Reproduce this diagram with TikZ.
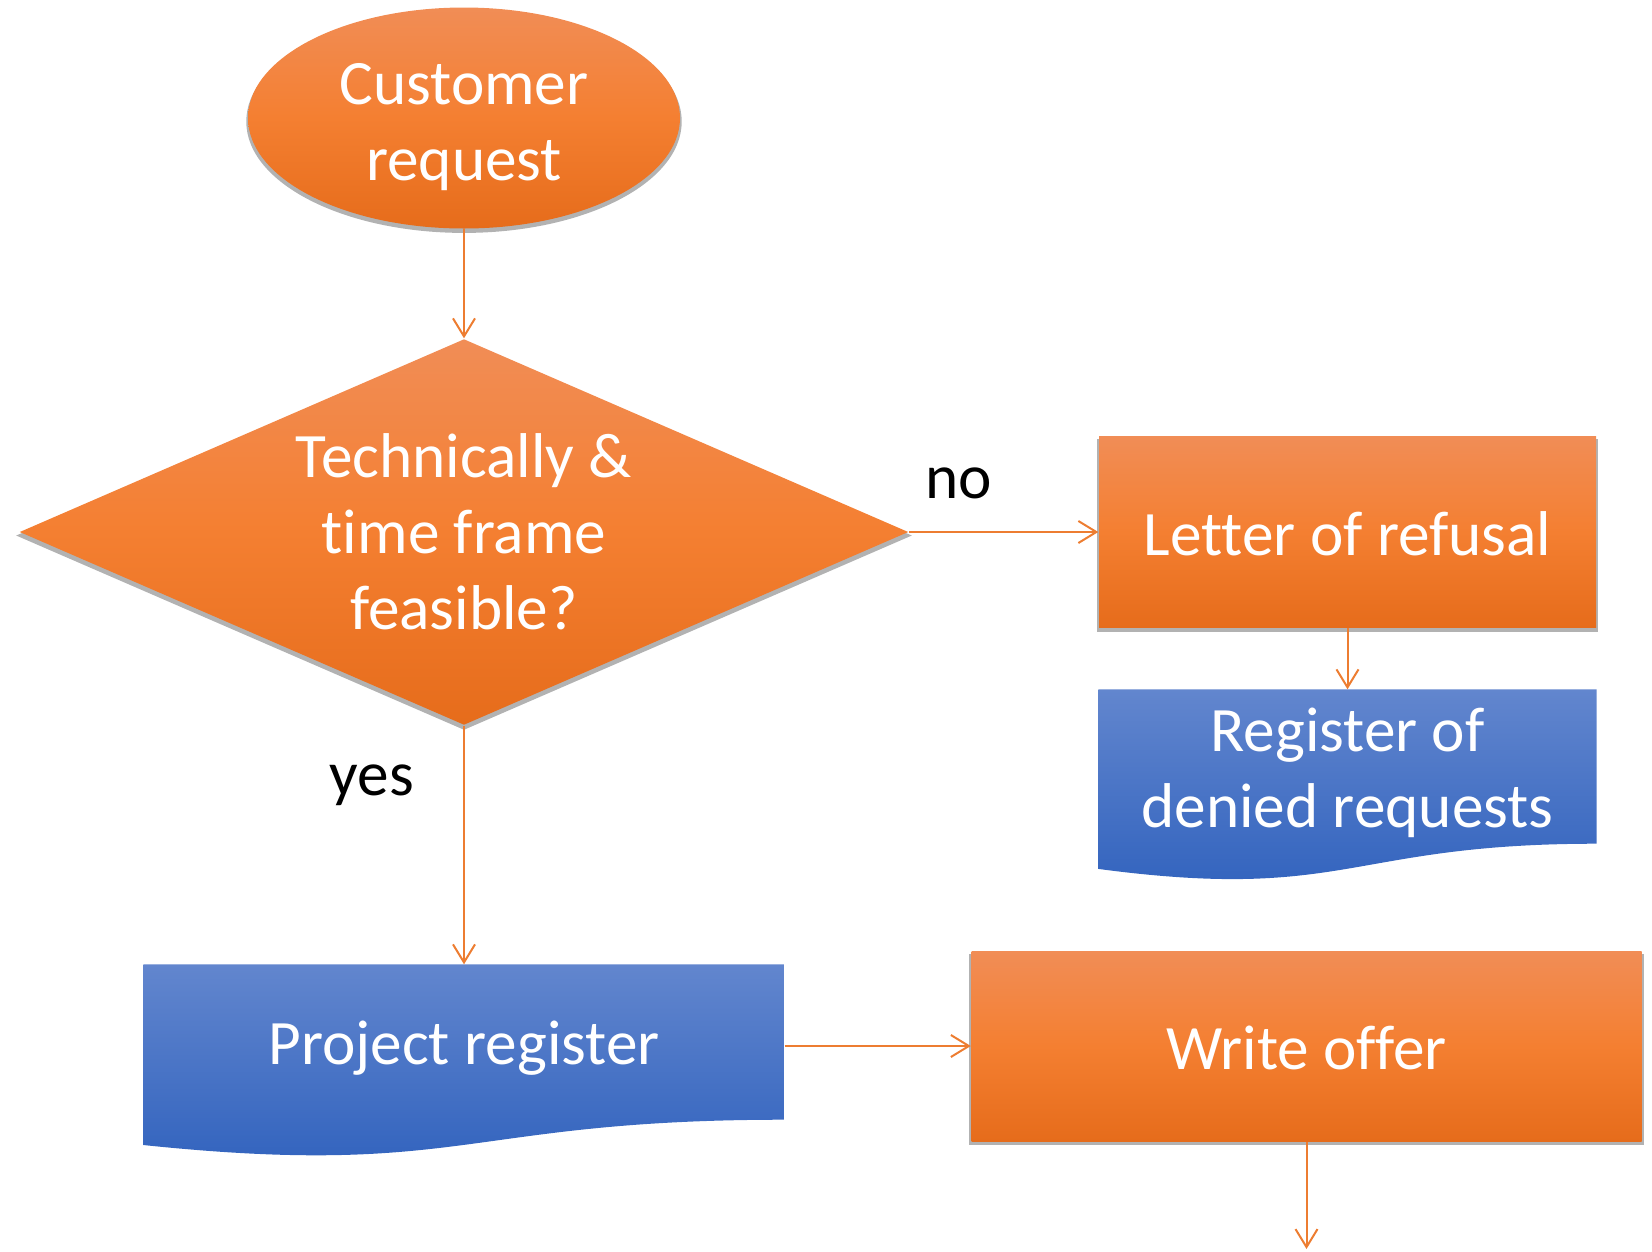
\documentclass[tikz,border=0pt]{standalone}
\usepackage{fontspec}
\setmainfont{Carlito}[Ligatures=NoCommon]
\usetikzlibrary{shapes.geometric,arrows.meta,shadows,backgrounds}
\definecolor{orangetop}{HTML}{F18D56}
\definecolor{orangemid}{HTML}{F47F31}
\definecolor{orangebot}{HTML}{E66C1B}
\definecolor{bluetop}{HTML}{6286CE}
\definecolor{bluebot}{HTML}{2F61BD}
\definecolor{flowline}{HTML}{ED7D31}
\newcommand{\lowerby}[1]{\rule{0pt}{#1}}
\begin{document}
\begin{tikzpicture}
			[x=0.1mm,y=-0.1mm,
			txt/.style={text=white,align=center,inner sep=0pt,font=\fontsize{18}{21.6}\selectfont},
			lower/.style={execute at begin node={\rule{0pt}{#1}}},
			orangefill/.style={top color=orangetop,bottom color=orangebot,middle color=orangemid,
				drop shadow={shadow xshift=0mm,shadow yshift=-0.35mm,shadow scale=1.008,fill=black,opacity=.3}},
			bluefill/.style={top color=bluetop,bottom color=bluebot},
			start/.style={ellipse,txt,orangefill,minimum width=43.2mm,minimum height=22.1mm},
			decision/.style={diamond,txt,orangefill,aspect=2.3,minimum width=88.9mm,minimum height=38.6mm},
			action/.style={rectangle,txt,orangefill,minimum height=19.1mm},
			docu/.style={rectangle,txt,minimum height=15.3mm},
			plain/.style={draw=none,fill=none,inner sep=0pt,font=\fontsize{18}{21.6}\selectfont},
			flow/.style={draw=flowline,line width=0.2mm,-{Straight Barb[length=1.8mm,width=2.2mm]}}
			]
			\useasboundingbox (0,0) rectangle (1652,1251);

			\node[start] (req) at (464,118) {\lowerby{16.8pt}Customer\\request};
			\node[decision] (feas) at (464,532) {Technically \&\\time frame\\feasible?};
			\node[action,minimum width=49.7mm,lower=13.4pt] (refusal) at (1347.5,532) {Letter of refusal};
			\node[docu,minimum width=49.7mm] (denied) at (1347.5,766.5) {\lowerby{15.8pt}Register of\\denied requests};
			\node[docu,minimum width=64mm,minimum height=15.4mm,lower=15.9pt] (preg) at (464,1042) {Project register};
			\node[action,minimum width=67mm,minimum height=19mm,lower=13.4pt] (offer) at (1306.5,1046) {Write offer};
			\coordinate (next) at (1306.5,1249);

			\node[plain] (no) at (959,483) {no};
			\node[plain] (yes) at (372,785) {yes};

			% document shapes with wavy bottom
			\begin{pgfonlayer}{background}
				\shade[bluefill] (denied.north west) -- (denied.north east) -- (denied.south east)
					.. controls (denied.south) and ([yshift=-5.83mm]denied.south) .. ([yshift=-2.52mm]denied.south west) -- cycle;
				\shade[bluefill] (preg.north west) -- (preg.north east) -- (preg.south east)
					.. controls (preg.south) and ([yshift=-5.87mm]preg.south) .. ([yshift=-2.53mm]preg.south west) -- cycle;
			\end{pgfonlayer}

			\draw[flow] (req) -- (feas);
			\draw[flow] (feas) -- (refusal);
			\draw[flow] (refusal) -- (denied);
			\draw[flow] (feas) -- (preg);
			\draw[flow] (preg.east |- offer) -- (offer);
			\draw[flow] (offer) -- (next);
		\end{tikzpicture}
\end{document}
